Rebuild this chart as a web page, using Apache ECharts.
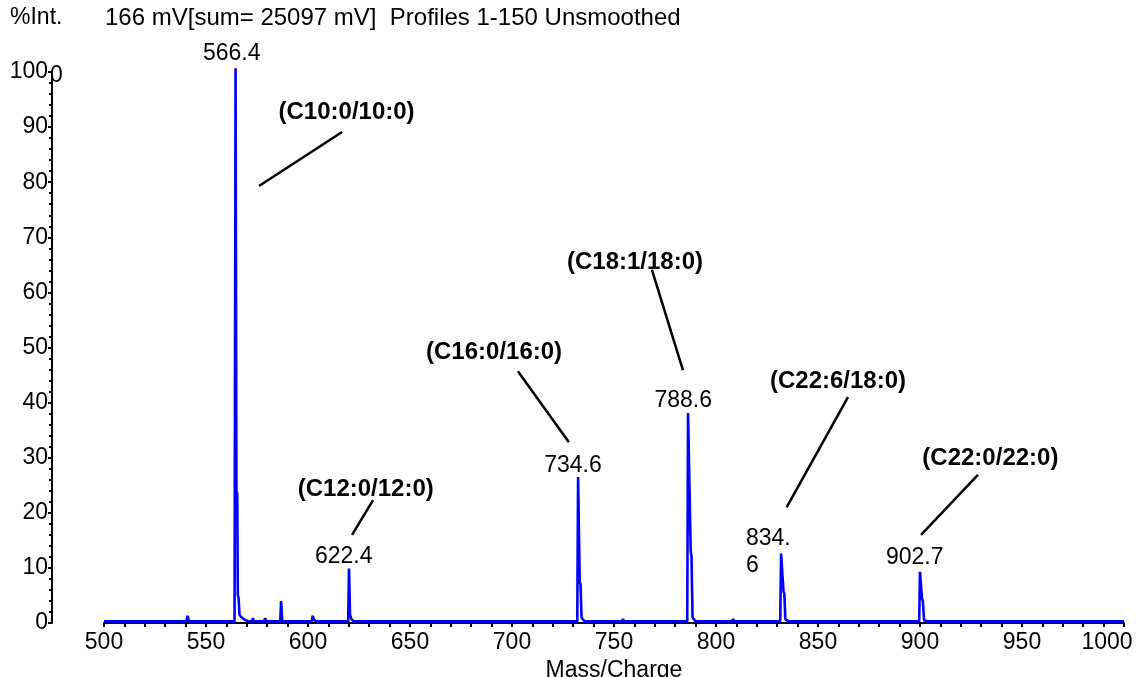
<!DOCTYPE html>
<html><head><meta charset="utf-8">
<script src="https://cdn.jsdelivr.net/npm/echarts@6/dist/echarts.min.js"></script>
<style>html,body{margin:0;padding:0;background:#fff;overflow:hidden;width:1136px;height:677px}#c{width:1136px;height:677px}</style>
</head><body><div id="c"></div>
<script>
// ---- Data ----
const mzValues = [
  500, 540.4, 541.0, 541.6,
  564.0, 564.5, 564.9, 565.3, 565.6, 566.0, 566.4, 567.5, 569.0, 571.0,
  572.5, 573.0, 573.5, 578.5, 579.0, 579.5,
  586.4, 586.8, 587.4,
  601.8, 602.3, 602.9, 604.0,
  619.7, 620.1, 620.6, 621.3, 622.5,
  732.0, 732.4, 733.2, 733.6, 734.1, 735.5,
  753.9, 754.4, 754.9,
  785.9, 786.3, 787.6, 788.0, 788.5, 790.0,
  807.9, 808.4, 808.9,
  831.5, 831.9, 833.1, 833.5, 834.0, 835.5,
  848.0, 848.5, 849.0,
  899.6, 900.0, 901.0, 901.4, 902.0, 903.5,
  1000
];
const intensityValues = [
  0.3, 0.3, 1.3, 0.3,
  0.3, 100.7, 24.0, 23.5, 5.0, 4.5, 1.5, 1.0, 0.6, 0.3,
  0.3, 0.9, 0.3, 0.3, 0.9, 0.3,
  0.3, 4.0, 0.3,
  0.3, 1.3, 0.6, 0.3,
  0.3, 9.9, 1.5, 0.7, 0.3,
  0.3, 26.5, 7.4, 7.0, 1.0, 0.3,
  0.3, 0.7, 0.3,
  0.3, 38.1, 13.1, 12.0, 1.0, 0.3,
  0.3, 0.7, 0.3,
  0.3, 12.6, 5.7, 5.3, 0.7, 0.3,
  0.3, 0.5, 0.3,
  0.3, 9.3, 4.4, 4.0, 0.5, 0.3,
  0.3
];
const xTickLabels = [500, 550, 600, 650, 700, 750, 800, 850, 900, 950, 1000];
const yTickLabels = [0, 10, 20, 30, 40, 50, 60, 70, 80, 90, 100];
const peakLabelTexts = ['566.4', '622.4', '734.6', '788.6', '834.\n6', '902.7'];
const lipidNames = ['(C10:0/10:0)', '(C12:0/12:0)', '(C16:0/16:0)', '(C18:1/18:0)', '(C22:6/18:0)', '(C22:0/22:0)'];
const titleLeft = '%Int.';
const titleMain = '166 mV[sum= 25097 mV]  Profiles 1-150 Unsmoothed';
const xAxisName = 'Mass/Charge';

// ---- Layout (annotation anchors in data coordinates) ----
const peakLabelAnchors = [[562.6, 103.4], [617.5, 12.0], [729.9, 28.6], [783.9, 40.4], [814.7, 12.8], [897.4, 11.8]];
const lipidAnchors = [[618.9, 92.7], [628.3, 24.3], [691.2, 49.2], [760.3, 65.5], [859.8, 43.9], [934.5, 29.9]];
const leaderLines = [
  [[576.0, 79.3], [616.7, 89.1]],
  [[621.6, 16.0], [631.9, 22.3]],
  [[702.9, 45.7], [727.9, 32.8]],
  [[768.6, 64.1], [783.8, 45.9]],
  [[864.7, 41.0], [834.6, 21.0]],
  [[928.4, 26.9], [900.5, 16.0]]
];

const FONT = '"Liberation Sans", Arial, sans-serif';
const FS = 23;
const spectrum = mzValues.map((m, i) => [m, intensityValues[i]]);
const maxX = xTickLabels[xTickLabels.length - 1];

const chart = echarts.init(document.getElementById('c'), null, {renderer: 'canvas', width: 1136, height: 677});
chart.setOption({
  animation: false,
  backgroundColor: '#fff',
  grid: {left: 104, right: 12, top: 72, bottom: 54, containLabel: false, outerBoundsMode: 'none'},
  xAxis: {
    type: 'value', min: 500, max: 1000, interval: 50,
    name: xAxisName, nameLocation: 'middle', nameGap: 31,
    nameTextStyle: {fontFamily: FONT, fontSize: FS, color: '#000', verticalAlign: 'top'},
    axisLine: {show: true, lineStyle: {color: '#000', width: 2}},
    axisTick: {show: true, length: 4, lineStyle: {color: '#000', width: 2}},
    minorTick: {show: true, splitNumber: 5, length: 4, lineStyle: {color: '#000', width: 2}},
    splitLine: {show: false},
    axisLabel: {fontFamily: FONT, fontSize: FS, color: '#000', margin: 8,
      formatter: v => !xTickLabels.includes(v) ? '' : (v === maxX ? '{r|' + v + '}' : String(v)),
      rich: {r: {fontFamily: FONT, fontSize: FS, color: '#000', padding: [0, 34, 0, 0]}}}
  },
  yAxis: {
    type: 'value', min: 0, max: 100, interval: 10, offset: 52,
    axisLine: {show: true, lineStyle: {color: '#000', width: 2}},
    axisTick: {show: true, length: 4, lineStyle: {color: '#000', width: 2}},
    minorTick: {show: true, splitNumber: 5, length: 3, lineStyle: {color: '#000', width: 2}},
    splitLine: {show: false},
    axisLabel: {fontFamily: FONT, fontSize: FS, color: '#000', margin: 4,
      formatter: v => yTickLabels.includes(v) ? String(v) : ''}
  },
  graphic: [
    {type: 'text', left: 10, top: 6, style: {text: titleLeft, font: FS + 'px ' + FONT, fill: '#000'}},
    {type: 'text', left: 105, top: 6, style: {text: titleMain, font: '24px ' + FONT, fill: '#000'}},
    {type: 'text', left: 50, top: 64, style: {text: '0', font: FS + 'px ' + FONT, fill: '#000'}}
  ],
  series: [
    {
      type: 'line', data: spectrum, showSymbol: false, symbol: 'none', clip: false,
      lineStyle: {color: '#0000ff', width: 2.6}, z: 5
    },
    {
      type: 'lines', coordinateSystem: 'cartesian2d', polyline: false, clip: false,
      data: leaderLines.map(c => ({coords: c})),
      lineStyle: {color: '#000', width: 2.5, opacity: 1}, z: 6
    },
    {
      type: 'scatter', clip: false, symbolSize: 1, itemStyle: {color: 'transparent', opacity: 1},
      data: peakLabelAnchors.map((a, i) => ({value: a, name: peakLabelTexts[i],
        label: i === 4 ? {align: 'left'} : {}})),
      label: {show: true, position: 'inside', formatter: p => p.name,
        fontFamily: FONT, fontSize: FS, color: '#000', lineHeight: 27, textBorderWidth: 0}, z: 7
    },
    {
      type: 'scatter', clip: false, symbolSize: 1, itemStyle: {color: 'transparent', opacity: 1},
      data: lipidAnchors.map((a, i) => ({value: a, name: lipidNames[i]})),
      label: {show: true, position: 'inside', formatter: p => p.name,
        fontFamily: FONT, fontSize: 24, fontWeight: 'bold', color: '#000', textBorderWidth: 0}, z: 7
    }
  ]
});
</script></body></html>
